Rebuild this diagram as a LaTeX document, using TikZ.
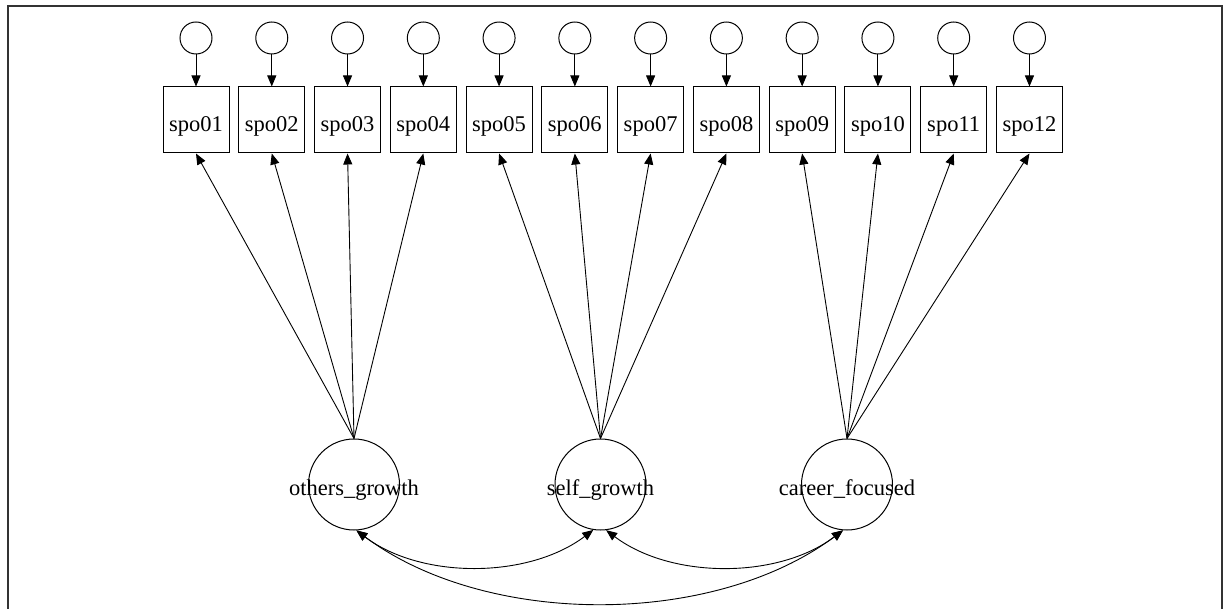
\documentclass[tikz,border=0pt]{standalone}
\usepackage{fontspec}
\setmainfont{Liberation Serif}
\usetikzlibrary{arrows.meta}
\definecolor{framegray}{RGB}{51,51,51}
\newcommand{\semtext}[1]{\raisebox{-11.5pt}[0pt][0pt]{\makebox[0pt]{#1}}}

\begin{document}
\begin{tikzpicture}[
    x=1pt, y=-1pt,
    every node/.style={font=\fontsize{22.5}{26}\selectfont, inner sep=0pt},
    obs/.style={rectangle, draw, minimum size=66pt, line width=1pt},
    err/.style={circle, draw, minimum size=32pt, line width=1pt},
    lat/.style={circle, draw, minimum size=91pt, line width=1pt},
    load/.style={-{Triangle[length=11pt,width=9pt]}, line width=0.9pt},
    cov/.style={{Triangle[length=11pt,width=9pt]}-{Triangle[length=11pt,width=9pt]}, line width=0.9pt}
  ]
\useasboundingbox (0,0) rectangle (1224,609);
\draw[framegray, line width=2pt] (8,620) -- (8,6) -- (1222,6) -- (1222,620);

% items and their error terms
\foreach \lab [count=\i] in {01,02,03,04,05,06,07,08,09,10,11,12} {
  \pgfmathsetmacro{\xpos}{196+(\i-1)*75.77}
  \node[obs] (spo\lab) at (\xpos,120) {\semtext{spo\lab}};
  \node[err] (e\lab) at (\xpos,38) {};
  \draw[load] (e\lab) -- (spo\lab);
}

% latent factors
\node[lat] (others) at (354,484.5) {\semtext{others\_growth}};
\node[lat] (self) at (600.5,484.5) {\semtext{self\_growth}};
\node[lat] (career) at (847,484.5) {\semtext{career\_focused}};

\foreach \lab in {01,02,03,04} \draw[load] (others.north) -- (spo\lab.south);
\foreach \lab in {05,06,07,08} \draw[load] (self.north) -- (spo\lab.south);
\foreach \lab in {09,10,11,12} \draw[load] (career.north) -- (spo\lab.south);

% covariances
\draw[cov] (others.-87) .. controls +(65,49) and +(-65,49) .. (self.-99);
\draw[cov] (self.-83) .. controls +(65,49) and +(-65,49) .. (career.-95);
\draw[cov] (others.-87) .. controls +(130,97) and +(-130,97) .. (career.-95);
\end{tikzpicture}
\end{document}
